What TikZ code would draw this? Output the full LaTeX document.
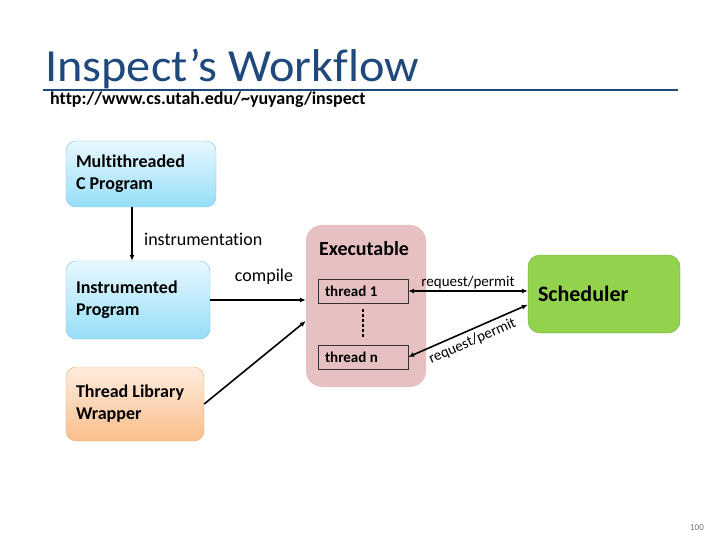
\documentclass[tikz,border=0pt]{standalone}
\usepackage{fontspec}
\setmainfont{Carlito}[Ligatures=NoCommon]
\newfontfamily\titlefont{Carlito}[Ligatures=NoCommon, FakeStretch=1.05]
\usetikzlibrary{arrows.meta, calc}
\definecolor{titleblue}{RGB}{31,73,125}
\definecolor{bluetop}{RGB}{232,248,255}
\definecolor{bluebot}{RGB}{150,222,248}
\definecolor{blueline}{RGB}{120,195,232}
\definecolor{orangetop}{RGB}{254,236,222}
\definecolor{orangebot}{RGB}{250,190,140}
\definecolor{orangeline}{RGB}{240,170,110}
\definecolor{exepink}{RGB}{231,193,193}
\definecolor{schgreen}{RGB}{146,210,76}
\definecolor{schline}{RGB}{110,170,60}

\tikzset{
  stagebox/.style={rounded corners=10pt, align=flush left, inner xsep=10pt,
    font=\fontsize{18}{22}\selectfont\bfseries},
  bluebox/.style={stagebox, draw=blueline, top color=bluetop, bottom color=bluebot},
  orangebox/.style={stagebox, draw=orangeline, top color=orangetop, bottom color=orangebot},
  threadbox/.style={draw=black!80, fill=exepink, minimum width=90pt, minimum height=24pt,
    inner xsep=7pt, align=flush left, text width=76pt, font=\fontsize{15}{18}\selectfont\bfseries},
  arr/.style={line width=1.6pt, -{Latex[length=6pt,width=5pt]}},
  darr/.style={line width=1.6pt, {Latex[length=6pt,width=5pt]}-{Latex[length=6pt,width=5pt]}},
  lbl/.style={font=\fontsize{18}{22}\selectfont},
  rlbl/.style={font=\fontsize{15}{18}\selectfont, inner sep=1pt}
}

\begin{document}
\begin{tikzpicture}[x=1pt, y={(0pt,-1pt)}]
    \useasboundingbox (0,0) rectangle (720,540);

    % Title
    \node[anchor=base west, inner sep=0pt, font=\titlefont\fontsize{46}{54}\selectfont, text=titleblue] (title) at (45,82) {Inspect’s Workflow};
    \draw[titleblue, line width=2pt] (43,90) -- (678,90);
    \node[anchor=base west, inner sep=0pt, font=\fontsize{18}{22}\selectfont\bfseries] (url) at (50,105) {http://www.cs.utah.edu/\textasciitilde yuyang/inspect};

    % Left column
    \node[bluebox, minimum width=150pt, minimum height=66pt, text width=130pt] (mtc) at (141,174) {Multithreaded\\C Program};
    \node[bluebox, minimum width=144pt, minimum height=78pt, text width=124pt] (ins) at (138,300) {Instrumented\\Program};
    \node[orangebox, minimum width=138pt, minimum height=74pt, text width=118pt] (wrp) at (135,404) {Thread Library\\Wrapper};

    % Executable
    \node[fill=exepink, rounded corners=16pt, minimum width=120pt, minimum height=162pt] (exe) at (366,306) {};
    \node[font=\fontsize{20}{24}\selectfont\bfseries] (exet) at (364,249) {Executable};
    \node[threadbox] (th1) at (363,291) {thread 1};
    \node[threadbox] (thn) at (363,357) {thread n};
    \draw[line width=1.2pt, dashed, dash pattern=on 3pt off 2pt] ([yshift=-6pt]th1.south) -- ([yshift=6pt]thn.north);

    % Scheduler
    \node[draw=schline, fill=schgreen, rounded corners=12pt, minimum width=152pt, minimum height=78pt,
      text width=132pt, inner xsep=10pt, align=flush left, font=\fontsize{22}{26}\selectfont\bfseries] (sch) at (604,294) {Scheduler};

    % Connectors
    \draw[arr] ([xshift=-9pt]mtc.south) -- ([xshift=-9pt]mtc.south |- ins.north)
      node[lbl, midway, right=8pt, yshift=-5pt] {instrumentation};
    \draw[arr] (ins.east) -- (ins.east -| exe.west)
      node[lbl, midway, above=11pt, xshift=6pt] {compile};
    \draw[arr] (wrp.east) -- (exe.194);
    \draw[darr] (th1.east) -- (th1.east -| sch.west)
      node[rlbl, midway, above] {request/permit};
    \draw[darr] (thn.east) -- (sch.188)
      node[rlbl, midway, sloped, below=3pt] {request/permit};

    % Page number
    \node[font=\fontsize{9}{10}\selectfont, text=black!55] (pg) at (697,528) {100};
\end{tikzpicture}
\end{document}
